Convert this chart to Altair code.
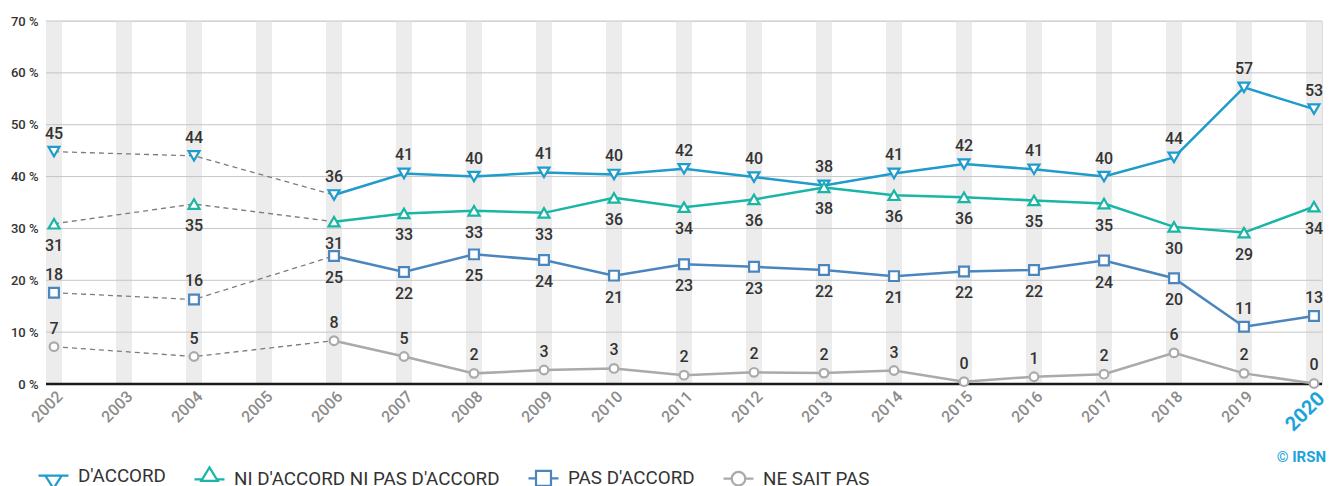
import altair as alt
import pandas as pd

# ---------------- data ----------------
SURVEY_YEARS = [2002, 2004, 2006, 2007, 2008, 2009, 2010, 2011, 2012, 2013,
                2014, 2015, 2016, 2017, 2018, 2019, 2020]
ALL_YEARS = list(range(2002, 2021))

SERIES = ["D'ACCORD", "NI D'ACCORD NI PAS D'ACCORD", "PAS D'ACCORD", "NE SAIT PAS"]

D_ACCORD = [44.8, 44.0, 36.45, 40.6, 40.0, 40.8, 40.4, 41.5, 39.9, 38.3,
            40.6, 42.4, 41.4, 40.0, 43.7, 57.2, 53.0]
NI_NI = [30.9, 34.7, 31.3, 32.9, 33.4, 33.0, 35.9, 34.1, 35.6, 37.9,
         36.4, 36.0, 35.4, 34.8, 30.3, 29.2, 34.2]
PAS_D_ACCORD = [17.6, 16.3, 24.7, 21.6, 25.0, 23.9, 20.9, 23.1, 22.6, 22.0,
                20.8, 21.7, 22.0, 23.8, 20.4, 11.05, 13.1]
NE_SAIT_PAS = [7.2, 5.3, 8.35, 5.3, 2.05, 2.7, 3.0, 1.7, 2.25, 2.1,
               2.6, 0.45, 1.4, 1.9, 6.0, 2.05, 0.1]

VALUES = [D_ACCORD, NI_NI, PAS_D_ACCORD, NE_SAIT_PAS]
Y_TICKS = [0, 10, 20, 30, 40, 50, 60, 70]
GRID_VALUES = [10, 20, 30, 40, 50, 60, 70]

# ---------------- styling ----------------
COLORS = ["#1f9bcc", "#19b5a5", "#4a86bd", "#aaaaaa"]
SHAPES = ["triangle-down", "triangle-up", "square", "circle"]
SIZES = [120, 120, 95, 75]
# legend symbols: a short line with the marker on it
LEGEND_PATHS = [
    "M-1,0H1M-0.55,0H0.55L0,0.85Z",
    "M-1,0H-0.49M0.49,0H1M-0.55,0.1H0.55L0,-0.8Z",
    "M-1,0H-0.5M0.5,0H1M-0.5,-0.5H0.5V0.5H-0.5Z",
    "M-1,0H-0.45M0.45,0H1M0.45,0A0.45,0.45,0,1,1,-0.45,0A0.45,0.45,0,1,1,0.45,0Z",
]
# which labels of the "PAS D'ACCORD" series sit above their point
SQUARE_LABEL_ABOVE = [2002, 2004, 2019, 2020]
BLUE = "#1aa3dd"
FONT = "Roboto"

rows = []
for s, vals in zip(SERIES, VALUES):
    for y, v in zip(SURVEY_YEARS, vals):
        if s == SERIES[1]:
            pos = "below"
        elif s == SERIES[2]:
            pos = "above" if y in SQUARE_LABEL_ABOVE else "below"
        else:
            pos = "above"
        rows.append({"year": y, "series": s, "value": v,
                     "label": str(int(v + 0.5)), "pos": pos})
df = pd.DataFrame(rows)
bands = pd.DataFrame({"year": ALL_YEARS})
grid = pd.DataFrame({"v": GRID_VALUES})

W, H = 1276, 363
x_scale = alt.Scale(domain=[2002 - 8 / 70, 2020 + 8 / 70], nice=False, zero=False)
y_scale = alt.Scale(domain=[0, 70], nice=False)

x_axis = alt.Axis(
    values=ALL_YEARS, format="d", labelAngle=-45, ticks=False, domain=False,
    grid=False, title=None, labelFlush=False, labelOverlap=False, labelPadding=4,
    labelFont=FONT, labelBound=False,
    labelColor={"condition": {"test": "datum.value == 2020", "value": BLUE}, "value": "#8c8c8c"},
    labelFontSize={"condition": {"test": "datum.value == 2020", "value": 20}, "value": 16},
    labelFontWeight={"condition": {"test": "datum.value == 2020", "value": "bold"}, "value": 500},
)
y_axis = alt.Axis(
    values=Y_TICKS, labelExpr="datum.value + ' %'", ticks=False, domain=False,
    grid=False, title=None, labelPadding=8, labelFont=FONT, labelFontSize=13,
    labelFontWeight=500, labelColor="#333333",
)

X = alt.X("year:Q", scale=x_scale, axis=x_axis)
Y = alt.Y("value:Q", scale=y_scale, axis=y_axis)

band_layer = alt.Chart(bands).mark_rect(color="#ececec").transform_calculate(
    x0="datum.year - 0.114", x1="datum.year + 0.114"
).encode(
    x=alt.X("x0:Q", scale=x_scale, axis=x_axis), x2="x1:Q",
    y=alt.datum(0, scale=y_scale, axis=y_axis), y2=alt.datum(70),
)

grid_layer = alt.Chart(grid).mark_rule(color="#c6c6c6", strokeWidth=1).encode(
    y=alt.Y("v:Q", scale=y_scale, axis=y_axis)
)
zero_layer = alt.Chart(pd.DataFrame({"v": [0]})).mark_rule(color="#1a1a1a", strokeWidth=2.5).encode(
    y=alt.Y("v:Q", scale=y_scale, axis=y_axis)
)

dashed = alt.Chart(df).transform_filter("datum.year <= 2006").mark_line(
    color="#7c7c7c", strokeDash=[5, 4], strokeWidth=1.3
).encode(x=X, y=Y, detail="series:N")

solid_layers = []
point_layers = []
for s, c, sh, sz in zip(SERIES, COLORS, SHAPES, SIZES):
    solid_layers.append(
        alt.Chart(df).transform_filter(alt.datum.series == s)
        .transform_filter("datum.year >= 2006")
        .mark_line(strokeWidth=2.5, color=c).encode(x=X, y=Y)
    )
    point_layers.append(
        alt.Chart(df).transform_filter(alt.datum.series == s).mark_point(
            shape=sh, filled=True, fill="white", stroke=c, strokeWidth=2.2,
            size=sz, opacity=1
        ).encode(x=X, y=Y)
    )

label_style = dict(font=FONT, fontSize=16, fontWeight=500, color="#333333")
labels_above = alt.Chart(df).transform_filter("datum.pos == 'above'").mark_text(
    dy=-18, **label_style).encode(x=X, y=Y, text="label:N")
labels_below = alt.Chart(df).transform_filter("datum.pos == 'below'").mark_text(
    dy=22, **label_style).encode(x=X, y=Y, text="label:N")

legend = alt.Legend(
    title=None, orient="none", legendX=-9, legendY=438, direction="horizontal",
    columnPadding=24, padding=0, labelFont=FONT, labelFontSize=18.8,
    labelColor="#333333", labelOffset=8, symbolSize=900, symbolStrokeWidth=2.2,
    symbolOpacity=1, labelLimit=0,
)
legend_layer = alt.Chart(df).mark_point(opacity=0, filled=False, strokeWidth=2.2).encode(
    x=X, y=Y,
    stroke=alt.Stroke("series:N", scale=alt.Scale(domain=SERIES, range=COLORS),
                      legend=legend, sort=SERIES),
    shape=alt.Shape("series:N", scale=alt.Scale(domain=SERIES, range=LEGEND_PATHS),
                    legend=legend, sort=SERIES),
)

credit = alt.Chart(pd.DataFrame({"t": ["© IRSN"]})).mark_text(
    font=FONT, fontSize=15, fontWeight="bold", color=BLUE, align="right",
    baseline="middle"
).encode(x=alt.value(1280), y=alt.value(436), text="t:N")

chart = alt.layer(
    band_layer, grid_layer, zero_layer, dashed, *solid_layers, *point_layers,
    labels_above, labels_below, legend_layer, credit
).properties(
    width=W, height=H,
    autosize=alt.AutoSizeParams(type="none"),
    padding={"left": 38, "top": 13, "right": 6, "bottom": 102},
).configure_view(stroke=None).configure(background="white")

chart.save("out.html", embed_options={"renderer": "svg", "actions": False})
